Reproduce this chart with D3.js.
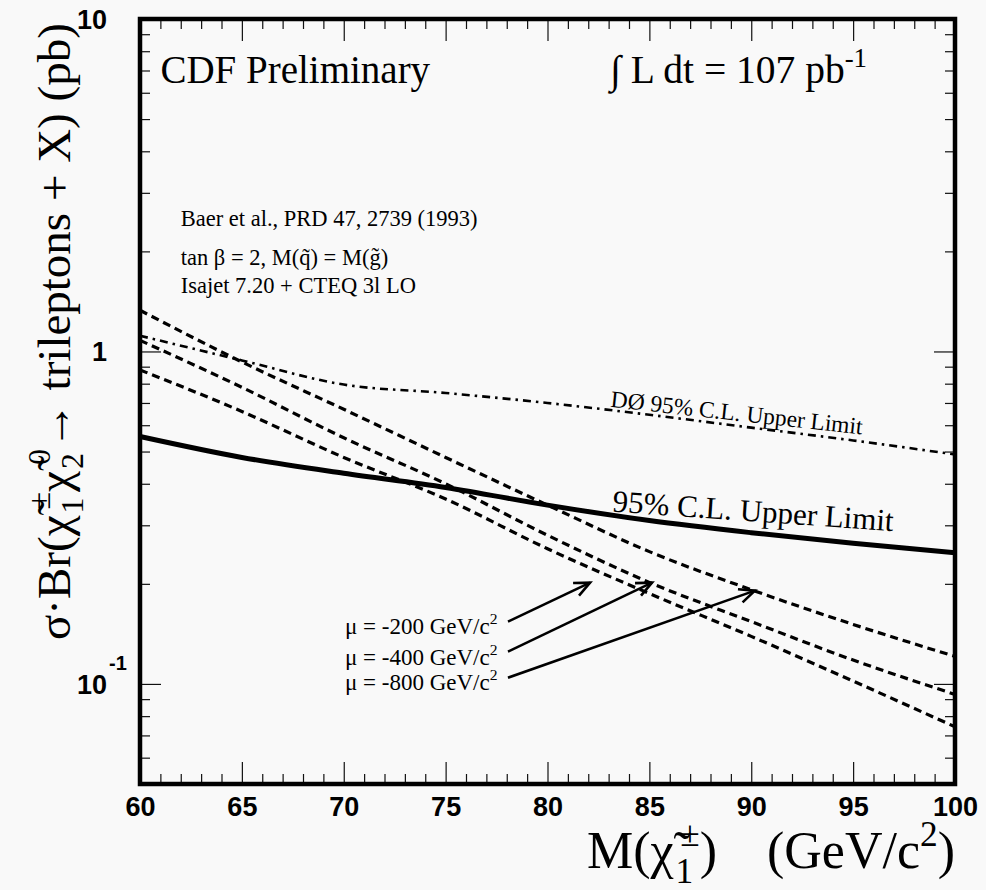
<!DOCTYPE html>
<html>
<head>
<meta charset="utf-8">
<script src="https://cdn.jsdelivr.net/npm/d3@7"></script>
<style>
  body { margin: 0; background: #f9f9f9; }
  svg { display: block; }
  .serif { font-family: 'Liberation Serif', 'Times New Roman', serif; fill: #000; }
  .tick text { font-family: 'Liberation Sans', Arial, sans-serif; font-weight: bold; }
</style>
</head>
<body>
<div id="chart-area"></div>
<script>
'use strict';

// chargino mass (GeV/c^2)
let masses = [60, 65, 70, 75, 80, 85, 90, 95, 100];

// CDF 95% C.L. upper limit (pb)
let cdfLimit = [0.555, 0.48, 0.43, 0.39, 0.345, 0.31, 0.285, 0.265, 0.248];
// D0 95% C.L. upper limit (pb)
let d0Limit = [1.115, 0.94, 0.795, 0.75, 0.70, 0.645, 0.59, 0.54, 0.49];

// theory sigma*Br for three mu values (pb)
let mu800 = [1.33, 0.93, 0.67, 0.48, 0.345, 0.25, 0.192, 0.151, 0.121];
let mu400 = [1.08, 0.78, 0.55, 0.40, 0.28, 0.202, 0.154, 0.118, 0.093];
let mu200 = [0.88, 0.66, 0.48, 0.36, 0.255, 0.187, 0.139, 0.102, 0.0743];

let xTicks = [60, 65, 70, 75, 80, 85, 90, 95, 100];
let yMajor = [0.1, 1, 10];

// arrows: [x0, y0, x1, y1] in data units
let arrows = [
    [78.06, 0.154, 82.09, 0.2016],
    [78.06, 0.125, 85.13, 0.2016],
    [78.06, 0.1044, 90.18, 0.1908],
];
let muLabels = ['-200', '-400', '-800'];
let muLabelY = [0.1416, 0.1143, 0.0961];

let W = 986, H = 890;
let margin = { left: 140, right: 31, top: 19, bottom: 106 };

let svg = d3.select('#chart-area').append('svg')
    .attr('width', W)
    .attr('height', H);

svg.append('rect')
    .attr('width', W)
    .attr('height', H)
    .attr('fill', '#f9f9f9');

let x = d3.scaleLinear()
    .domain([60, 100])
    .range([margin.left, W - margin.right]);

let y = d3.scaleLog()
    .domain([0.05, 10])
    .range([H - margin.bottom, margin.top]);

let minorX = d3.range(60, 101, 1).filter(d => d % 5 !== 0);
let minorY = [];
[0.01, 0.1, 1].forEach(p => {
    for (let k = 2; k <= 9; k++) {
        let v = +(k * p).toPrecision(3);
        if (v >= 0.05 && v < 10) minorY.push(v);
    }
});

function ticks(axis, transform) {
    let g = svg.append('g')
        .attr('transform', transform)
        .call(axis);
    g.select('.domain').remove();
    g.selectAll('line').attr('stroke', '#111').attr('stroke-width', 1.2);
    return g;
}

let yB = y(0.05), yT = y(10), xL = x(60), xR = x(100);

// bottom
ticks(d3.axisBottom(x).tickValues(minorX).tickSize(-10).tickFormat(''), 'translate(0,' + yB + ')');
let bx = ticks(d3.axisBottom(x).tickValues(xTicks).tickSize(-22).tickPadding(13)
    .tickFormat(d3.format('d')), 'translate(0,' + yB + ')');
bx.selectAll('text').attr('font-size', 27).attr('fill', '#000');
// top
ticks(d3.axisTop(x).tickValues(minorX).tickSize(-10).tickFormat(''), 'translate(0,' + yT + ')');
ticks(d3.axisTop(x).tickValues(xTicks).tickSize(-22).tickFormat(''), 'translate(0,' + yT + ')');
// left
ticks(d3.axisLeft(y).tickValues(minorY).tickSize(-10).tickFormat(''), 'translate(' + xL + ',0)');
ticks(d3.axisLeft(y).tickValues(yMajor).tickSize(-21).tickFormat(''), 'translate(' + xL + ',0)');
// right
ticks(d3.axisRight(y).tickValues(minorY).tickSize(-10).tickFormat(''), 'translate(' + xR + ',0)');
ticks(d3.axisRight(y).tickValues(yMajor).tickSize(-21).tickFormat(''), 'translate(' + xR + ',0)');

// y tick labels, ROOT style
let ylab = svg.append('g')
    .attr('font-family', "'Liberation Sans', Arial, sans-serif")
    .attr('font-weight', 'bold')
    .attr('font-size', 27)
    .attr('text-anchor', 'end');
ylab.append('text').attr('x', 107).attr('y', y(10)).attr('dy', '0.36em').text('10');
ylab.append('text').attr('x', 107).attr('y', y(1)).attr('dy', '0.36em').text('1');
ylab.append('text').attr('x', 107).attr('y', y(0.1)).attr('dy', '0.36em').text('10');
ylab.append('text').attr('x', 109).attr('y', y(0.1) - 14)
    .attr('text-anchor', 'start').attr('font-size', 20).text('-1');

// curves
let line = d3.line()
    .x((d, i) => x(masses[i]))
    .y(d => y(d))
    .curve(d3.curveMonotoneX);

let plot = svg.append('g');

plot.append('path').datum(d0Limit)
    .attr('d', line).attr('fill', 'none').attr('stroke', '#000')
    .attr('stroke-width', 2.6).attr('stroke-dasharray', '8,5,2.5,5');

[mu800, mu400, mu200].forEach(s => {
    plot.append('path').datum(s)
        .attr('d', line).attr('fill', 'none').attr('stroke', '#000')
        .attr('stroke-width', 3.2).attr('stroke-dasharray', '8,5');
});

plot.append('path').datum(cdfLimit)
    .attr('d', line).attr('fill', 'none').attr('stroke', '#000')
    .attr('stroke-width', 5);

// arrows
arrows.forEach(a => {
    let x0 = x(a[0]), y0 = y(a[1]), x1 = x(a[2]), y1 = y(a[3]);
    let ang = Math.atan2(y1 - y0, x1 - x0);
    let hl = 17, hw = 0.42;
    plot.append('line')
        .attr('x1', x0).attr('y1', y0).attr('x2', x1).attr('y2', y1)
        .attr('stroke', '#000').attr('stroke-width', 2.6);
    plot.append('path')
        .attr('d', 'M' + (x1 - hl * Math.cos(ang - hw)) + ',' + (y1 - hl * Math.sin(ang - hw)) +
            'L' + x1 + ',' + y1 +
            'L' + (x1 - hl * Math.cos(ang + hw)) + ',' + (y1 - hl * Math.sin(ang + hw)))
        .attr('fill', 'none').attr('stroke', '#000').attr('stroke-width', 2.6);
});

// frame
svg.append('rect')
    .attr('x', xL).attr('y', yT)
    .attr('width', xR - xL).attr('height', yB - yT)
    .attr('fill', 'none').attr('stroke', '#000').attr('stroke-width', 4.5);

// rich text helper: parts of {t, sub, sup, dx}
function rich(sel, parts, size) {
    let shift = 0;
    parts.forEach(p => {
        let target = p.sub ? 0.28 * size : (p.sup ? -0.42 * size : 0);
        let ts = sel.append('tspan').text(p.t).attr('dy', target - shift);
        shift = target;
        if (p.sub || p.sup) ts.attr('font-size', size * 0.68);
        if (p.dx) ts.attr('dx', p.dx);
    });
}

// annotations
svg.append('text').attr('class', 'serif')
    .attr('x', x(61)).attr('y', y(6.4))
    .attr('font-size', 39)
    .text('CDF Preliminary');

let lum = svg.append('text').attr('class', 'serif')
    .attr('x', x(83.07)).attr('y', y(6.4))
    .attr('font-size', 39.5);
rich(lum, [{ t: '\u222B L dt = 107 pb' }, { t: '-1', sup: true }], 39.5);

let info = [
    ['Baer et al., PRD 47, 2739 (1993)', 2.39],
    ['tan \u03B2 = 2, M(q\u0303) = M(g\u0303)', 1.82],
    ['Isajet 7.20 + CTEQ 3l LO', 1.50],
];
info.forEach(d => {
    svg.append('text').attr('class', 'serif')
        .attr('x', x(62)).attr('y', y(d[1]))
        .attr('font-size', 22.5)
        .text(d[0]);
});

svg.append('text').attr('class', 'serif')
    .attr('font-size', 23.5)
    .attr('transform', 'translate(' + x(83.07) + ',' + y(0.682) + ') rotate(6.3)')
    .text('D\u00D8 95% C.L. Upper Limit');

svg.append('text').attr('class', 'serif')
    .attr('font-size', 31)
    .attr('transform', 'translate(' + x(83.17) + ',' + y(0.330) + ') rotate(4)')
    .text('95% C.L. Upper Limit');

muLabels.forEach((m, i) => {
    let t = svg.append('text').attr('class', 'serif')
        .attr('x', x(70.06)).attr('y', y(muLabelY[i]))
        .attr('font-size', 23);
    rich(t, [{ t: '\u03BC = ' + m + ' GeV/c' }, { t: '2', sup: true }], 23);
});

// axis titles
let xt = svg.append('text').attr('class', 'serif')
    .attr('x', 955).attr('y', 868)
    .attr('text-anchor', 'end')
    .attr('font-size', 52);
rich(xt, [
    { t: 'M(\u03C7\u0303' }, { t: '1', sub: true, dx: 2 }, { t: '\u00B1', sup: true, dx: -13 },
    { t: ')' }, { t: '(GeV/c', dx: 50 }, { t: '2', sup: true }, { t: ')' }
], 52);

let yt = svg.append('text').attr('class', 'serif')
    .attr('transform', 'translate(70,640) rotate(-90)')
    .attr('text-anchor', 'start')
    .attr('font-size', 47);
rich(yt, [
    { t: '\u03C3\u00B7Br(\u03C7\u0303' }, { t: '1', sub: true, dx: 2 }, { t: '\u00B1', sup: true, dx: -12 },
    { t: '\u03C7\u0303' }, { t: '2', sub: true, dx: 2 }, { t: '0', sup: true, dx: -12 },
    { t: '\u2192 trileptons + X) (pb)' }
], 47);
</script>
</body>
</html>
